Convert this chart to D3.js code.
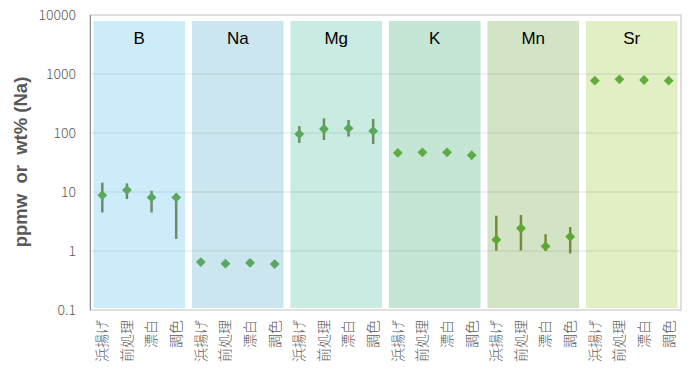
<!DOCTYPE html>
<html>
<head>
<meta charset="utf-8">
<script src="https://cdn.jsdelivr.net/npm/d3@7"></script>
<style>
  body { margin: 0; background: #fff; }
  svg { display: block; }
</style>
</head>
<body>
<svg id="chart" width="700" height="372"></svg>
<script>
"use strict";

// elements (panels) and process stages (x categories)
const elements = ["B", "Na", "Mg", "K", "Mn", "Sr"];
const stages = ["浜揚げ", "前処理", "漂白", "調色"];

// mean values per element, one per stage
const meanB  = [8.8, 10.8, 8.1, 8.1];
const meanNa = [0.65, 0.61, 0.63, 0.60];
const meanMg = [96, 117, 120, 108];
const meanK  = [46, 47, 47, 42];
const meanMn = [1.55, 2.43, 1.2, 1.75];
const meanSr = [770, 813, 791, 770];

// error bar ends (null = no bar)
const lowB  = [4.5, 7.6, 4.5, 1.6];
const highB = [14.4, 14.0, 10.5, 9.3];
const lowMg  = [68, 76, 87, 65];
const highMg = [131, 177, 166, 173];
const lowMn  = [1.01, 1.02, 1.0, 0.91];
const highMn = [3.97, 4.07, 1.92, 2.55];

const yTicks = [0.1, 1, 10, 100, 1000, 10000];

const panelColors = ["#cdecfa", "#cbe6ef", "#c8ebe2", "#c5e5d5", "#d3e4c6", "#e2efc5"];
const markColors  = ["#5aa85e", "#5aa85e", "#5aa85a", "#5fab45", "#5ea832", "#62ab3c"];
const barColors   = ["#6b8c6b", "#6b8c6b", "#6e8f5c", "#6e8f5c", "#7a8a3a", "#7a8a3a"];

const groups = [
  {name: "B",  mean: meanB,  low: lowB,  high: highB},
  {name: "Na", mean: meanNa, low: null,  high: null},
  {name: "Mg", mean: meanMg, low: lowMg, high: highMg},
  {name: "K",  mean: meanK,  low: null,  high: null},
  {name: "Mn", mean: meanMn, low: lowMn, high: highMn},
  {name: "Sr", mean: meanSr, low: null,  high: null}
];

const plotL = 90, plotR = 681, plotT = 15, plotB = 310;

let svg = d3.select("#chart");

let xPanel = d3.scaleBand()
               .domain(elements)
               .range([plotL, plotR])
               .paddingInner(0.07)
               .paddingOuter(0.035);

let xCat = d3.scaleBand()
             .domain(d3.range(elements.length * stages.length))
             .range([plotL, plotR]);

let y = d3.scaleLog()
          .domain([0.1, 10000])
          .range([plotB, plotT]);

// plot frame
svg.append("rect")
   .attr("x", plotL).attr("y", plotT)
   .attr("width", plotR - plotL).attr("height", plotB - plotT)
   .attr("fill", "none")
   .attr("stroke", "#bfbfbf");

// panel backgrounds
svg.append("g")
   .selectAll("rect")
   .data(elements)
   .join("rect")
   .attr("x", d => xPanel(d))
   .attr("y", 21)
   .attr("width", xPanel.bandwidth())
   .attr("height", 308 - 21)
   .attr("fill", (d, i) => panelColors[i]);

// gridlines
svg.append("g")
   .selectAll("line")
   .data(yTicks.slice(1, -1))
   .join("line")
   .attr("x1", plotL).attr("x2", plotR)
   .attr("y1", d => y(d)).attr("y2", d => y(d))
   .attr("stroke", "#000")
   .attr("stroke-opacity", 0.1);

// left axis line
svg.append("line")
   .attr("x1", plotL + 0.5).attr("x2", plotL + 0.5)
   .attr("y1", plotT).attr("y2", plotB)
   .attr("stroke", "#8c8c8c");

// y axis tick labels
svg.append("g")
   .selectAll("text")
   .data(yTicks)
   .join("text")
   .attr("x", 76)
   .attr("y", d => y(d) + 5)
   .attr("text-anchor", "end")
   .attr("font-family", "'Noto Sans CJK JP', sans-serif")
   .attr("font-weight", 300)
   .attr("font-size", 14)
   .attr("fill", "#595959")
   .text(d => d3.format("")(d));

// y axis title
svg.append("text")
   .attr("transform", "translate(27,162) rotate(-90)")
   .attr("text-anchor", "middle")
   .attr("font-family", "'Liberation Sans', Arial, sans-serif")
   .attr("font-weight", "bold")
   .attr("font-size", 18.5)
   .attr("fill", "#595959")
   .attr("xml:space", "preserve")
   .text("ppmw  or  wt% (Na)");

// panel headers
svg.append("g")
   .selectAll("text")
   .data(elements)
   .join("text")
   .attr("x", d => xPanel(d) + xPanel.bandwidth() / 2)
   .attr("y", 44)
   .attr("text-anchor", "middle")
   .attr("font-family", "'Liberation Sans', Arial, sans-serif")
   .attr("font-size", 17)
   .attr("fill", "#000")
   .text(d => d);

// x category labels, rotated to read bottom-to-top
let cats = [];
groups.forEach((g, gi) => stages.forEach((s, si) => cats.push({idx: gi * stages.length + si, label: s})));

svg.append("g")
   .selectAll("text")
   .data(cats)
   .join("text")
   .attr("transform", d => "translate(" + (xCat(d.idx) + xCat.bandwidth() / 2) + ",320) rotate(-90)")
   .attr("text-anchor", "end")
   .attr("dy", "0.35em")
   .attr("font-family", "'Noto Sans CJK JP', sans-serif")
   .attr("font-weight", 300)
   .attr("font-size", 14)
   .attr("fill", "#595959")
   .text(d => d.label);

// points and error bars
let points = [];
groups.forEach((g, gi) => g.mean.forEach((v, si) => points.push({
    gi: gi,
    idx: gi * stages.length + si,
    v: v,
    lo: g.low ? g.low[si] : null,
    hi: g.high ? g.high[si] : null
})));

let cx = d => xCat(d.idx) + xCat.bandwidth() / 2;

svg.append("g")
   .selectAll("line")
   .data(points.filter(d => d.lo !== null))
   .join("line")
   .attr("x1", cx).attr("x2", cx)
   .attr("y1", d => y(d.lo)).attr("y2", d => y(d.hi))
   .attr("stroke", d => barColors[d.gi])
   .attr("stroke-width", 2.5);

let diamond = d3.symbol().type(d3.symbolSquare).size(48);

svg.append("g")
   .selectAll("path")
   .data(points)
   .join("path")
   .attr("d", diamond)
   .attr("transform", d => "translate(" + cx(d) + "," + y(d.v) + ") rotate(45)")
   .attr("fill", d => markColors[d.gi]);
</script>
</body>
</html>
